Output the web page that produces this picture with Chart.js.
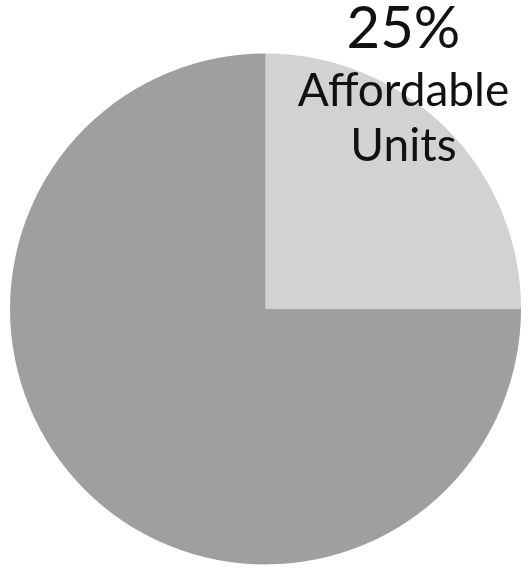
<!DOCTYPE html>
<html>
<head>
<meta charset="utf-8">
<script src="https://cdn.jsdelivr.net/npm/chart.js@4.4.0/dist/chart.umd.min.js"></script>
<style>
  html, body { margin: 0; padding: 0; background: #fff; }
  #wrap { width: 531px; height: 570px; }
</style>
</head>
<body>
<div id="wrap"><canvas id="pie"></canvas></div>
<script>
// ---- Data ----
const categories = ['Affordable Units', 'Other Units'];
const shares = [25, 75];
const sliceColors = ['#d2d2d2', '#9f9f9f'];

// ---- Label plugin: big percent + wrapped name over the first slice ----
const sliceLabel = {
    id: 'sliceLabel',
    afterDraw(chart) {
        const arc = chart.getDatasetMeta(0).data[0];
        if (!arc) return;
        const { x, y, outerRadius: r } = arc.getProps(['x', 'y', 'outerRadius'], true);
        const ctx = chart.ctx;
        const tx = x + r * 0.54;
        const total = shares.reduce((a, b) => a + b, 0);
        ctx.save();
        ctx.fillStyle = '#111';
        ctx.textAlign = 'center';
        ctx.textBaseline = 'alphabetic';
        ctx.font = '58px Lato';
        ctx.fillText(Math.round(shares[0] / total * 100) + '%', tx, y - r * 1.02);
        const words = categories[0].split(' ');
        ctx.font = '46px Lato';
        ctx.fillText(words[0], tx, y - r * 0.795);
        ctx.fillText(words[1], tx, y - r * 0.58);
        ctx.restore();
    }
};

new Chart(document.getElementById('pie'), {
    type: 'pie',
    data: {
        labels: categories,
        datasets: [{
            data: shares,
            backgroundColor: sliceColors,
            borderWidth: 0
        }]
    },
    options: {
        responsive: true,
        maintainAspectRatio: false,
        animation: false,
        layout: { padding: { top: 50, bottom: 2, left: 10, right: 10 } },
        plugins: {
            legend: { display: false },
            tooltip: { enabled: false }
        }
    },
    plugins: [sliceLabel]
});
</script>
</body>
</html>
